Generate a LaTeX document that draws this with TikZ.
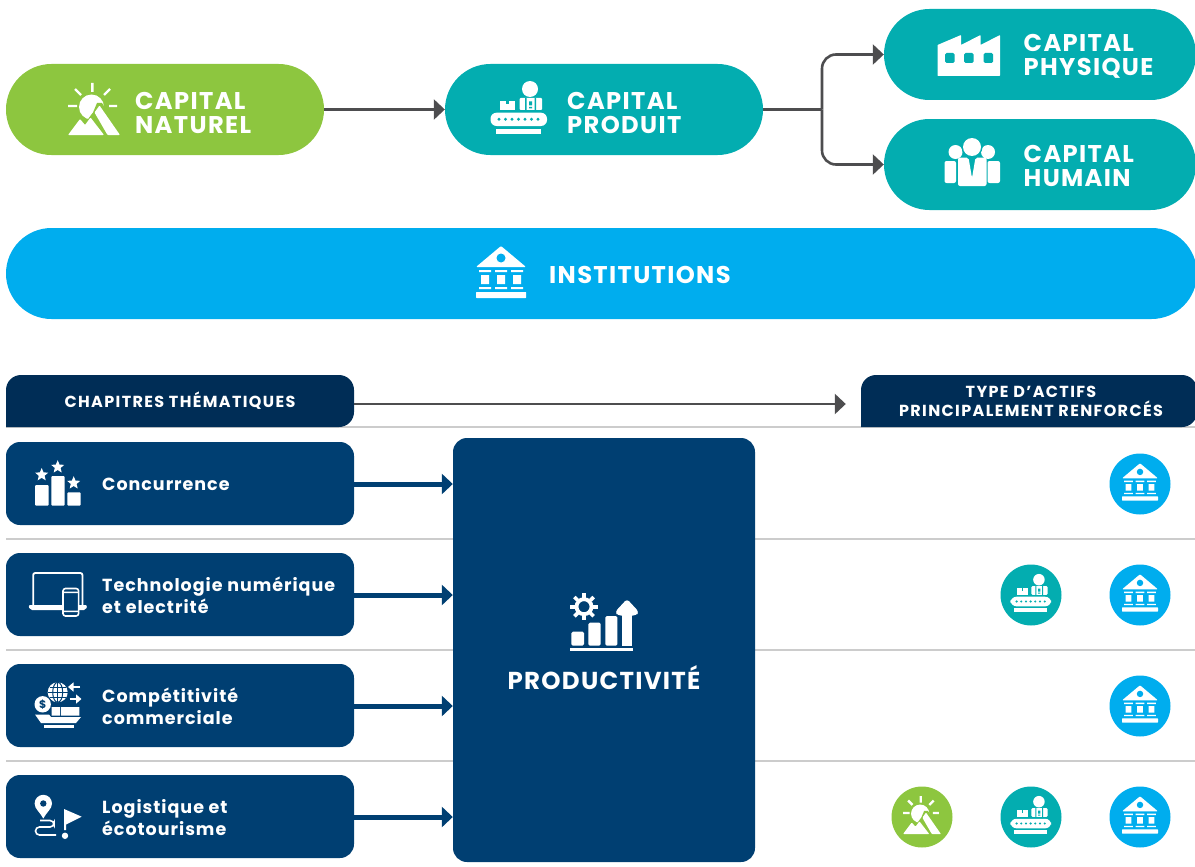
\documentclass[tikz,border=0pt]{standalone}
\usepackage{fontspec}
\setmainfont{Poppins}
\usetikzlibrary{arrows.meta,calc}
\definecolor{natgreen}{HTML}{8DC63F}
\definecolor{tealc}{HTML}{03ADB0}
\definecolor{bluec}{HTML}{00ADEE}
\definecolor{navy}{HTML}{003F72}
\definecolor{hdrnavy}{HTML}{002D56}
\definecolor{conn}{HTML}{4D4D4F}
\definecolor{sep}{HTML}{CCCCCC}
\newcommand{\mystar}[3]{\fill[white,shift={(#1,#2)}] (-90:#3) -- (-54:.45*#3) -- (-18:#3) -- (18:.45*#3) -- (54:#3) -- (90:.45*#3) -- (126:#3) -- (162:.45*#3) -- (198:#3) -- (234:.45*#3) -- cycle;}
\tikzset{
  x=1pt,y=-1pt,
  pill/.style={inner sep=0pt,minimum width=318pt,minimum height=91pt,rounded corners=45.5pt},
  rowbox/.style={fill=navy,inner sep=0pt,minimum width=348pt,minimum height=83pt,rounded corners=14pt},
  head/.style={white,font=\bfseries\fontsize{24.2}{24}\selectfont\addfontfeature{LetterSpace=5.6},anchor=west,align=left,inner sep=0pt},
  rowtxt/.style={white,font=\bfseries\fontsize{17.5}{22}\selectfont\addfontfeature{LetterSpace=5.6},anchor=west,align=left,inner sep=0pt},
  hdrtxt/.style={white,font=\bfseries\fontsize{16}{19}\selectfont\addfontfeature{LetterSpace=8.5},align=center,inner sep=0pt},
  flow/.style={conn,line width=2.6pt,-{Triangle[length=11pt,width=20pt]}},
  thick arrow/.style={navy,line width=5pt,-{Triangle[length=11pt,width=20pt]}},
  sepline/.style={sep,line width=1.2pt},
  badge/.style={circle,inner sep=0pt,minimum size=61pt},
  pics/instIcon/.style={code={
    \fill[white,rounded corners=1pt] (-25,-5) -- (0,-26) -- (25,-5) -- cycle;
    \fill[bluec] (0,-14) circle (4.5);
    \fill[white] (-22,-2) rectangle (-10,0) (-6,-2) rectangle (6,0) (10,-2) rectangle (22,0);
    \fill[white] (-20,3) rectangle (-12,12) (-4,3) rectangle (4,12) (12,3) rectangle (20,12);
    \fill[white] (-22,15) rectangle (-10,17) (-6,15) rectangle (6,17) (10,15) rectangle (22,17);
    \fill[white,rounded corners=.5pt] (-25,20) rectangle (25,26);
  }},
  pics/natIcon/.style={code={
    \draw[white,line width=2.4pt] (-1.7,-26.5) -- (-1.7,-17.5)
      (-19,-20.5) -- (-13,-14.5) (16,-20.5) -- (10,-14.5)
      (-26,-3.5) -- (-17,-3.5) (15,-3.5) -- (23,-3.5);
    \fill[white] (-2.5,-2.5) circle (12.5);
    \fill[natgreen] (-18,26) -- (-15,7) -- (-8,12.5) -- (-3,5.5) -- (-1,3) -- (3,-6.5) -- (8,-6.5) -- (28,26) -- cycle;
    \fill[white,rounded corners=.8pt] (5.5,-4) -- (26,25.5) -- (13.5,25.5) -- (0.5,3) -- cycle;
    \fill[white,rounded corners=.8pt] (-26,25.5) -- (-14,9.5) -- (-9,15.5) -- (-3.5,8) -- (10,25.5) -- cycle;
  }},
  pics/prodIcon/.style={code={
    \fill[white] (11,-18.5) circle (8);
    \fill[white] (-19,-6.5) rectangle (-4.5,2.5);
    \fill[tealc] (-13,-7) rectangle (-10.5,-3);
    \fill[white,rounded corners=1pt] (0.5,-9.5) rectangle (23,2.5);
    \fill[tealc] (6,-9.5) rectangle (7.5,2.5) (15.5,-9.5) rectangle (17,2.5);
    \fill[tealc] (10,-6) rectangle (13,-2) (10,-.5) rectangle (13,1);
    \fill[white,rounded corners=6pt] (-28.5,5.2) rectangle (28,18.5);
    \foreach \dx in {-20,-13.5,...,20}{\fill[tealc] (\dx,11.8) circle (1.6);}
    \fill[white] (-23,21.5) rectangle (22,26.5);
  }}
}
\begin{document}
\begin{tikzpicture}
\clip (0,0) rectangle (1195,867);
% separators
\foreach \yy in {427,539,650,761}{\draw[sepline] (6,\yy) -- (1195,\yy);}
% top pills
\node[pill,fill=natgreen] (nat) at (165,109.5) {};
\node[pill,fill=tealc] (prod) at (604,109.5) {};
\node[pill,fill=tealc,minimum width=312pt] (phys) at (1040,54.5) {};
\node[pill,fill=tealc,minimum width=312pt] (hum) at (1040,164.5) {};
\node[pill,fill=bluec,minimum width=1191pt] (inst) at (601.5,273.5) {};
\coordinate (branch) at (822,109.5);
\draw[flow] (nat.east) -- (prod.west);
\draw[conn,line width=2.6pt] (prod.east) -- (branch);
\draw[flow,rounded corners=14pt] (branch) |- (phys.west);
\draw[flow,rounded corners=14pt] (branch) |- (hum.west);
% pill labels
\node[head] (tnat) at (135,112.5) {CAPITAL\\NATUREL};
\node[head] (tprod) at (567,112.5) {CAPITAL\\PRODUIT};
\node[head] (tphys) at (1023.5,56.5) {CAPITAL\\PHYSIQUE};
\node[head] (thum) at (1023.5,166) {CAPITAL\\HUMAIN};
\node[head] (tinst) at (549,275) {INSTITUTIONS};
% pill icons
\pic at (94,109.5) {natIcon};
\pic at (519,107.5) {prodIcon};
\pic at (501,272) {instIcon};
% factory
\fill[white,rounded corners=.6pt] (937.5,45) -- (961,35) -- (961,45) -- (980.5,35) -- (980.5,45) -- (1000,35) -- (1000,76) -- (937.5,76) -- cycle;
\fill[tealc,rounded corners=1.5pt] (945,53) rectangle (954.5,63) (964,53) rectangle (973.5,63) (983.5,53) rectangle (993,63);
% people
\fill[white] (955.5,152) circle (7) (988,152) circle (7);
\fill[tealc] (972,147) circle (10.5);
\fill[white] (972,147) circle (9);
\fill[white,rounded corners=2pt] (944.5,161) rectangle (956,183) (987.5,161) rectangle (1000,183);
\fill[white,rounded corners=2pt] (958,157.5) -- (968.5,157.5) -- (972,178) -- (975.5,157.5) -- (986.5,157.5) -- (986.5,186) -- (958,186) -- cycle;
% header tabs
\fill[hdrnavy,rounded corners=15pt] (6,427) -- (6,375) -- (354,375) -- (354,427) [sharp corners] -- cycle;
\fill[hdrnavy,rounded corners=15pt] (861,427) -- (861,375) -- (1197,375) -- (1197,427) [sharp corners] -- cycle;
\node[hdrtxt,minimum width=348pt,minimum height=52pt] (hA) at (180,401) {CHAPITRES THÉMATIQUES};
\node[hdrtxt,minimum width=340pt,minimum height=52pt] (hB) at (1031,401.5) {TYPE D'ACTIFS\\PRINCIPALEMENT RENFORCÉS};
\draw[flow,shorten >=15pt] ($(hA.east)+(0,3)$) -- ($(hA.east -| hB.west)+(0,3)$);
% productivity box
\node[rowbox,minimum width=302pt,minimum height=424pt] (big) at (604,650) {};
\node[head,anchor=center,font=\bfseries\fontsize{24.5}{24}\selectfont\addfontfeature{LetterSpace=5.2}] (tbig) at (604,678) {PRODUCTIVITÉ};
% rows
\node[rowbox] (r1) at (180,483.5) {};
\node[rowbox] (r2) at (180,594.5) {};
\node[rowbox] (r3) at (180,705.5) {};
\node[rowbox] (r4) at (180,816.5) {};
\node[rowtxt] (t1) at (102,484.5) {Concurrence};
\node[rowtxt] (t2) at (102,595.5) {Technologie numérique\\et electrité};
\node[rowtxt] (t3) at (102,706.5) {Compétitivité\\commerciale};
\node[rowtxt] (t4) at (102,817.5) {Logistique et\\écotourisme};
\foreach \a/\b in {r1/484,r2/595,r3/706,r4/817}{
  \coordinate (tgt) at (big.west |- 0,\b);
  \draw[thick arrow] (\a.east |- tgt) -- (tgt);
}
% concurrence icon
\fill[white,rounded corners=1pt] (35,485) rectangle (48.7,505.7) (51.3,476) rectangle (64.7,505.7) (67.3,492.3) rectangle (80.7,505.7);
\mystar{41.7}{474.8}{6.8}
\mystar{57.7}{467}{6.8}
\mystar{73.7}{483}{6.8}
% tech icon
\draw[white,line width=1.8pt,rounded corners=2pt] (33.2,605) -- (33.2,573) -- (82.4,573) -- (82.4,605);
\fill[white,rounded corners=2pt] (28.3,605) -- (87.3,605) -- (86,610) -- (30,610) -- cycle;
\draw[white,fill=navy,line width=1.6pt,rounded corners=2.5pt] (63,588.5) rectangle (78.6,616);
\fill[white] (63,591.5) rectangle (78.6,593) (63,610.5) rectangle (78.6,612);
% trade icon
\fill[white] (57.7,692.3) circle (10);
\begin{scope}[navy,line width=1pt]
\draw (57.7,682.3) -- (57.7,702.3) (47.7,692.3) -- (67.7,692.3);
\draw (57.7,692.3) ellipse (5 and 10);
\draw (49.5,687) -- (66,687) (49.5,697.6) -- (66,697.6);
\end{scope}
\draw[white,line width=2.6pt,-{Triangle[length=5.5pt,width=9pt]}] (80,687) -- (68,687);
\draw[white,line width=2.6pt,-{Triangle[length=5.5pt,width=9pt]}] (69.5,699) -- (81.5,699);
\fill[navy] (42.7,704.3) circle (9.5);
\fill[white] (42.7,704.3) circle (8.2);
\node[navy,inner sep=0pt,font=\bfseries\fontsize{11}{11}\selectfont] (dollar) at (42.7,704.3) {\$};
\fill[white] (51.7,707) rectangle (60,715.5) (61.2,707) rectangle (79.3,715.5);
\fill[white] (35,714.5) -- (49,714.5) -- (51,717) -- (81,717) -- (76,723) -- (41,723) -- cycle;
\fill[white] (43.5,724.5) rectangle (73.5,727.7);
% logistics icon
\fill[white] (43.3,818.5) .. controls (40,812) and (34.6,809) .. (34.6,803.5) arc[start angle=180,end angle=360,radius=8.7] .. controls (52,809) and (46.6,812) .. (43.3,818.5) -- cycle;
\fill[navy] (43.3,803.5) circle (3.2);
\draw[white,line width=1.6pt,rounded corners=4pt] (40,820.5) -- (54,820.5) -- (54,827) -- (35.5,827) -- (35.5,835) -- (56,835);
\fill[white] (64,809) -- (81.7,816.7) -- (66,824.5) -- (66,830) -- (64,830) -- cycle;
\fill[white] (65,835.8) circle (3.2);
% productivity icon
\draw[white,line width=3.8pt] (584,606.7) circle (7.5);
\foreach \ang in {0,45,...,315}{\draw[white,line width=3.6pt] (584,606.7) ++(\ang:9) -- ++(\ang:4.6);}
\fill[white,rounded corners=1.5pt] (571.3,631.7) rectangle (584,645.7) (588.3,622.7) rectangle (600.7,645.7) (605.3,616) rectangle (617.3,645.7);
\fill[white] (622,612) rectangle (631.7,645.7);
\fill[white,rounded corners=3pt] (627,599) -- (639,612) -- (636,615.5) -- (618,615.5) -- (615,612) -- cycle;
\fill[white] (570,648.3) rectangle (632.7,651);
% badges
\foreach \nm/\cx/\cy/\col in {a/1140/484/bluec,b/1031/595/tealc,c/1140/595/bluec,d/1140/706/bluec,e/922/817/natgreen,f/1031/817/tealc,g/1140/817/bluec}{
  \node[badge,fill=\col] (badge\nm) at (\cx,\cy) {};
}
\pic[scale=.72] at (1140,482) {instIcon};
\pic[scale=.72] at (1140,593) {instIcon};
\pic[scale=.72] at (1140,704) {instIcon};
\pic[scale=.72] at (1140,815) {instIcon};
\pic[scale=.72] at (1031,593) {prodIcon};
\pic[scale=.72] at (1031,815) {prodIcon};
\pic[scale=.73] at (922,815.5) {natIcon};
\end{tikzpicture}
\end{document}
